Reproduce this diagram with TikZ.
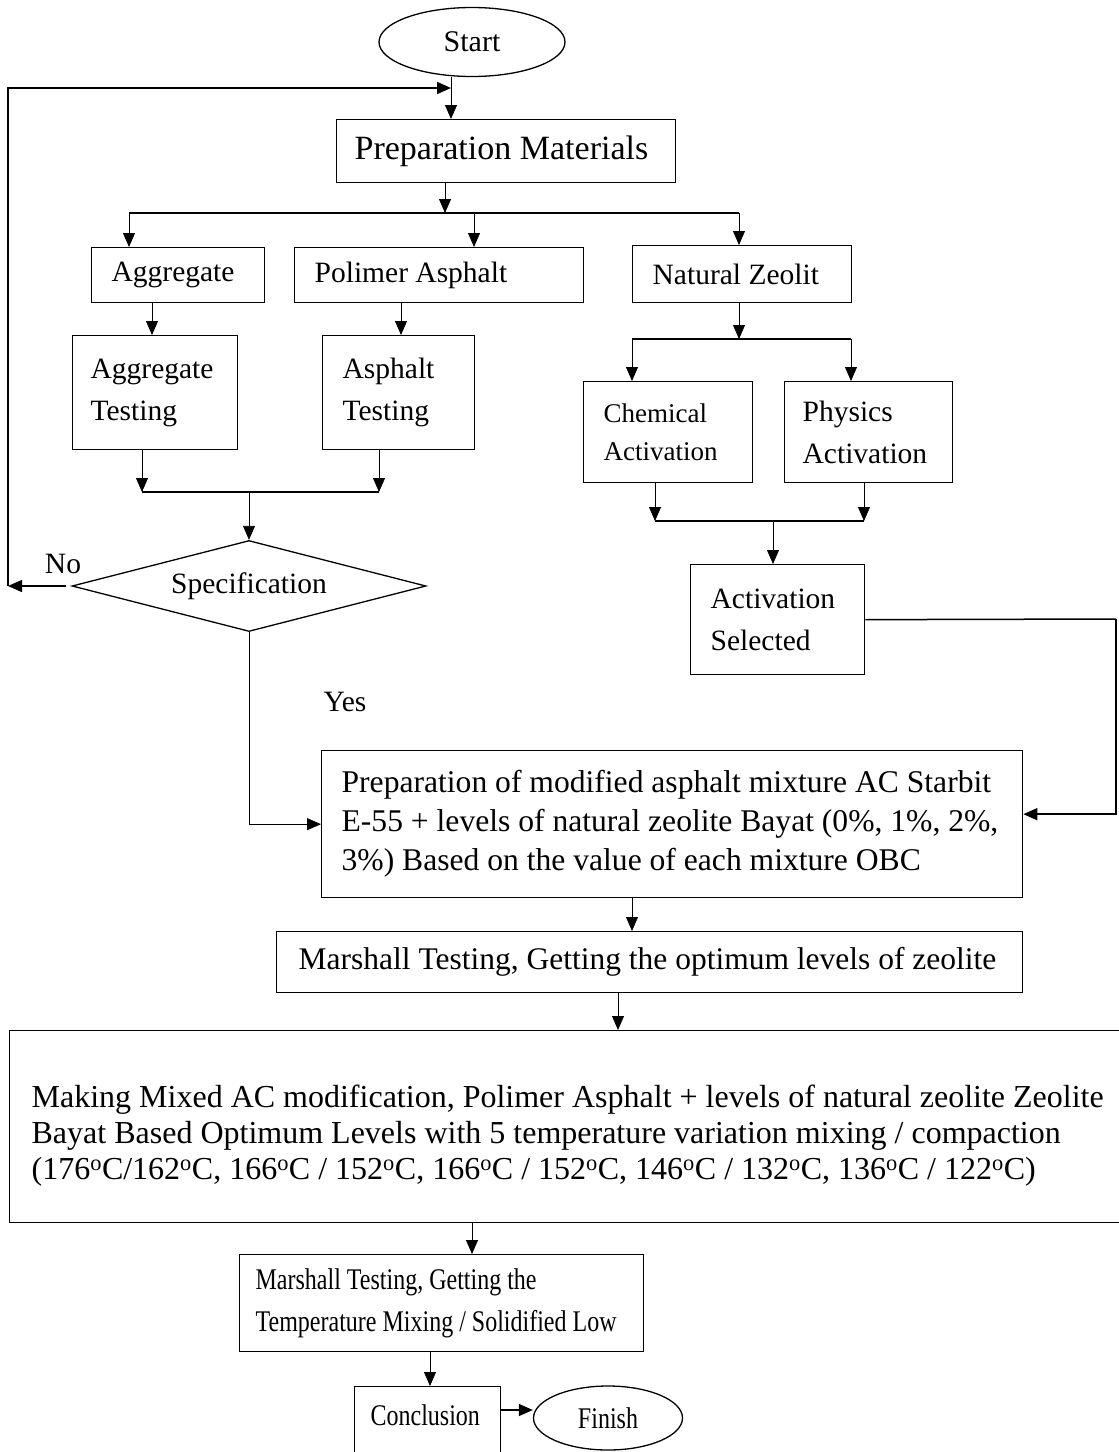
\documentclass[tikz,border=0pt]{standalone}
\usepackage{fontspec}
\setmainfont{Liberation Serif}
\newfontfamily\narrowfont{Liberation Serif}[FakeStretch=0.8]
\usetikzlibrary{shapes.geometric,arrows.meta}

\newcommand{\tempC}{\textsuperscript{o}C}
\newcommand{\tsz}[2]{\fontsize{#1}{#2}\selectfont}
\newcommand{\nsz}[2]{\narrowfont\fontsize{#1}{#2}\selectfont}

\tikzset{
	box/.style={draw, line width=1.3pt, anchor=north west, inner ysep=0pt, font=\tsz{29.5}{42},
		execute at begin node={\raggedright\spaceskip=0.25em plus 0.1em minus 0.05em\relax}},
	nbox/.style={box, font=\nsz{30}{42},
		execute at begin node={\raggedright\spaceskip=0.2em plus 0.08em minus 0.04em\relax}},
	term/.style={draw, ellipse, line width=1.3pt, inner sep=0pt},
	arr/.style={line width=0.8pt, -{Triangle[length=14pt,width=12pt]}},
	bus/.style={line width=1.3pt},
	back/.style={line width=1.5pt},
	backarr/.style={line width=1.5pt, -{Triangle[length=14pt,width=12pt]}},
	lbl/.style={font=\tsz{29.5}{42}}
}

\begin{document}
\begin{tikzpicture}[x=1pt, y=-1pt]
	
	\useasboundingbox (0,0) rectangle (1119,1452);
	
	\node[term, minimum width=186pt, minimum height=69pt, font=\tsz{30}{42}] (start) at (472,42) {Start};
	\node[box, font=\tsz{34}{42}, inner xsep=18pt, text width=303pt, minimum height=63pt] (pm) at (336,119) {Preparation Materials};
	
	\node[box, inner xsep=20pt, text width=133pt, minimum height=55pt] (agg) at (91,247) {Aggregate};
	\node[box, inner xsep=20pt, text width=249pt, minimum height=55pt] (poly) at (294,247) {Polimer Asphalt};
	\node[box, inner xsep=20pt, text width=179pt, minimum height=57pt] (zeo) at (632,245) {Natural Zeolit};
	
	\node[box, inner xsep=18pt, text width=129pt, minimum height=114pt] (aggt) at (72,335) {Aggregate\\Testing};
	\node[box, inner xsep=20pt, text width=112pt, minimum height=114pt] (asph) at (322,335) {Asphalt\\Testing};
	\node[draw, diamond, aspect=3.9, line width=1.3pt, inner sep=0pt, minimum width=354pt, minimum height=91pt, font=\tsz{29.5}{42}] (spec) at (249,586) {Specification};
	
	\node[box, font=\tsz{27}{38}, inner xsep=20pt, text width=129pt, minimum height=101pt] (chem) at (583,381) {Chemical\\Activation};
	\node[box, inner xsep=18pt, text width=132pt, minimum height=101pt] (phys) at (784,381) {Physics\\Activation};
	\node[box, inner xsep=20pt, text width=134pt, minimum height=110pt] (sel) at (690,564) {Activation\\Selected};
	
	\node[box, font=\tsz{31.6}{39}, inner xsep=20pt, text width=661pt, minimum height=147pt] (prep) at (321,750) {Preparation of modified asphalt mixture AC Starbit\\E-55 + levels of natural zeolite Bayat (0\%, 1\%, 2\%,\\3\%) Based on the value of each mixture OBC};
	\node[box, font=\tsz{31.5}{39}, inner xsep=22pt, text width=702pt, minimum height=61pt] (marsh) at (276,931) {Marshall Testing, Getting the optimum levels of zeolite};
	\node[box, font=\tsz{32}{36}, inner xsep=22pt, text width=1081pt, minimum height=192pt] (big) at (9,1030) {\rule{0pt}{40pt}Making Mixed AC modification, Polimer Asphalt + levels of natural zeolite Zeolite\\Bayat Based Optimum Levels with 5 temperature variation mixing / compaction\\(176\tempC/162\tempC, 166\tempC{} / 152\tempC, 166\tempC{} / 152\tempC, 146\tempC{} / 132\tempC, 136\tempC{} / 122\tempC)};
	
	\node[nbox, inner xsep=16pt, text width=372pt, minimum height=97pt] (m2) at (239,1254) {Marshall Testing, Getting the\\Temperature Mixing / Solidified Low};
	\node[nbox, inner xsep=16pt, inner ysep=18.5pt, text width=114pt, text depth=70pt] (conc) at (354,1386) {Conclusion};
	\node[term, minimum width=149pt, minimum height=64pt, font=\nsz{30}{42}] (fin) at (608,1418) {Finish};
	
	\node[lbl] (no) at (63,564) {No};
	\node[lbl] (yes) at (345,702) {Yes};
	
	\coordinate (busL) at (129,213);
	\coordinate (busR) at (739,213);
	\coordinate (mgL) at (142,492);
	\coordinate (mgR) at (379,492);
	\coordinate (zbusL) at (632,339);
	\coordinate (zbusR) at (851,339);
	\coordinate (amgL) at (655,521);
	\coordinate (amgR) at (864,521);
	\coordinate (loopL) at (8,586);
	\coordinate (loopT) at (8,88);
	\coordinate (loopE) at (451,88);
	\coordinate (selR) at (1116,619);
	
	\draw[arr] ([xshift=-21pt]start.south) -- (loopE |- pm.north);
	\draw[arr] ([xshift=109pt]pm.south west) -- ([xshift=109pt]pm.south west |- busL);
	\draw[bus] (busL) -- (busR);
	\draw[arr] (busL) -- (busL |- agg.north);
	\draw[arr] ([xshift=180pt]poly.north west |- busL) -- ([xshift=180pt]poly.north west);
	\draw[arr] (busR) -- (busR |- zeo.north);
	
	\draw[arr] ([xshift=61pt]agg.south west) -- ([xshift=61pt]agg.south west |- aggt.north);
	\draw[arr] ([xshift=107pt]poly.south west) -- ([xshift=107pt]poly.south west |- asph.north);
	\draw[arr] (mgL |- aggt.south) -- (mgL);
	\draw[arr] (mgR |- asph.south) -- (mgR);
	\draw[bus] (mgL) -- (mgR);
	\draw[arr] (mgL -| spec.north) -- (spec.north);
	
	\draw[backarr] ([xshift=-5pt]spec.west) -- (loopL);
	\draw[backarr] (loopL) -- (loopT) -- (loopE);
	\draw[arr] (spec.south) |- (prep.west);
	
	\draw[arr] ([xshift=107pt]zeo.south west) -- ([xshift=107pt]zeo.south west |- zbusL);
	\draw[bus] (zbusL) -- (zbusR);
	\draw[arr] (zbusL) -- (zbusL |- chem.north);
	\draw[arr] (zbusR) -- (zbusR |- phys.north);
	\draw[arr] (amgL |- chem.south) -- (amgL);
	\draw[arr] (amgR |- phys.south) -- (amgR);
	\draw[bus] (amgL) -- (amgR);
	\draw[arr] ([xshift=83pt]sel.north west |- amgL) -- ([xshift=83pt]sel.north west);
	\draw[back] (sel.east) -- (selR);
	\draw[backarr] (selR) |- ([yshift=10pt]prep.east);
	
	\draw[arr] ([xshift=311pt]prep.south west) -- ([xshift=311pt]prep.south west |- marsh.north);
	\draw[arr] ([xshift=342pt]marsh.south west) -- ([xshift=342pt]marsh.south west |- big.north);
	\draw[arr] ([xshift=463pt]big.south west) -- ([xshift=463pt]big.south west |- m2.north);
	\draw[arr] ([xshift=191pt]m2.south west) -- ([xshift=191pt]m2.south west |- conc.north);
	\draw[backarr] ([yshift=-24pt]conc.north east) -- ([yshift=-24pt]conc.north east -| fin.west);
	
\end{tikzpicture}
\end{document}
